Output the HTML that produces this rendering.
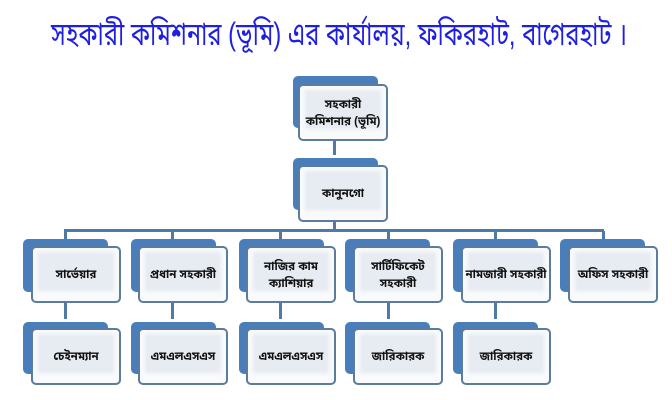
<!DOCTYPE html>
<html><head><meta charset="utf-8">
<style>
html,body{margin:0;padding:0;background:#fff}
#p{position:relative;width:672px;height:400px;overflow:hidden;background:#fff;font-family:"Liberation Sans","Noto Sans Bengali","Lohit Bengali","FreeSans","DejaVu Sans",sans-serif}
svg.t{position:absolute;left:0;top:0}
.b{position:absolute;background:#4a7ebb;border-radius:5px}
.f{position:absolute;box-sizing:border-box;width:90px;height:57px;background:#f8fafc;border:2px solid #5b7c9e;border-radius:5px;display:flex;align-items:center;justify-content:center;text-align:center;font-size:11.5px;line-height:17px;color:#111;font-weight:bold;white-space:nowrap}
.f::before{content:"";position:absolute;left:5px;right:5px;top:4px;bottom:10px;background:#e7ebf2;z-index:0;filter:blur(1.5px)}
.f span{position:relative;z-index:1;top:1px}
.l{position:absolute;background:#4f7aa5}
</style></head><body><div id="p">
<svg class="t" width="672" height="70"><text x="51" y="45" font-size="32" fill="#1f1fe0" textLength="576" lengthAdjust="spacingAndGlyphs">সহকারী কমিশনার (ভূমি) এর কার্যালয়, ফকিরহাট, বাগেরহাট ।</text></svg>

<div class="l" style="left:333px;top:140px;width:3px;height:15px"></div>
<div class="l" style="left:333px;top:222px;width:3px;height:9px"></div>
<div class="l" style="left:64px;top:229px;width:540px;height:3px"></div>
<div class="l" style="left:64px;top:231px;width:3px;height:8px"></div>
<div class="l" style="left:171px;top:231px;width:3px;height:8px"></div>
<div class="l" style="left:279px;top:231px;width:3px;height:8px"></div>
<div class="l" style="left:387px;top:231px;width:3px;height:8px"></div>
<div class="l" style="left:494px;top:231px;width:3px;height:8px"></div>
<div class="l" style="left:602px;top:231px;width:3px;height:8px"></div>
<div class="l" style="left:64px;top:303px;width:3px;height:16px"></div>
<div class="l" style="left:171px;top:303px;width:3px;height:16px"></div>
<div class="l" style="left:279px;top:303px;width:3px;height:16px"></div>
<div class="l" style="left:387px;top:303px;width:3px;height:16px"></div>
<div class="l" style="left:494px;top:303px;width:3px;height:16px"></div>

<div class="b" style="left:293px;top:76px;width:85px;height:52px"></div>
<div class="f" style="left:298px;top:84px"><span>সহকারী<br>কমিশনার (ভূমি)</span></div>
<div class="b" style="left:293px;top:158px;width:85px;height:52px"></div>
<div class="f" style="left:298px;top:165px"><span>কানুনগো</span></div>

<div class="b" style="left:23px;top:239px;width:85px;height:53px"></div>
<div class="f" style="left:31px;top:246px"><span>সার্ভেয়ার</span></div>
<div class="b" style="left:131px;top:239px;width:85px;height:53px"></div>
<div class="f" style="left:138px;top:246px"><span>প্রধান সহকারী</span></div>
<div class="b" style="left:239px;top:239px;width:85px;height:53px"></div>
<div class="f" style="left:246px;top:246px"><span>নাজির কাম<br>ক্যাশিয়ার</span></div>
<div class="b" style="left:345px;top:239px;width:85px;height:53px"></div>
<div class="f" style="left:353px;top:246px"><span>সার্টিফিকেট<br>সহকারী</span></div>
<div class="b" style="left:453px;top:239px;width:85px;height:53px"></div>
<div class="f" style="left:461px;top:246px"><span>নামজারী সহকারী</span></div>
<div class="b" style="left:560px;top:239px;width:85px;height:53px"></div>
<div class="f" style="left:568px;top:246px"><span>অফিস সহকারী</span></div>

<div class="b" style="left:23px;top:322px;width:85px;height:52px"></div>
<div class="f" style="left:31px;top:328px"><span>চেইনম্যান</span></div>
<div class="b" style="left:131px;top:322px;width:85px;height:52px"></div>
<div class="f" style="left:138px;top:328px"><span>এমএলএসএস</span></div>
<div class="b" style="left:239px;top:322px;width:85px;height:52px"></div>
<div class="f" style="left:246px;top:328px"><span>এমএলএসএস</span></div>
<div class="b" style="left:345px;top:322px;width:85px;height:52px"></div>
<div class="f" style="left:353px;top:328px"><span>জারিকারক</span></div>
<div class="b" style="left:453px;top:322px;width:85px;height:52px"></div>
<div class="f" style="left:461px;top:328px"><span>জারিকারক</span></div>
</div></body></html>
